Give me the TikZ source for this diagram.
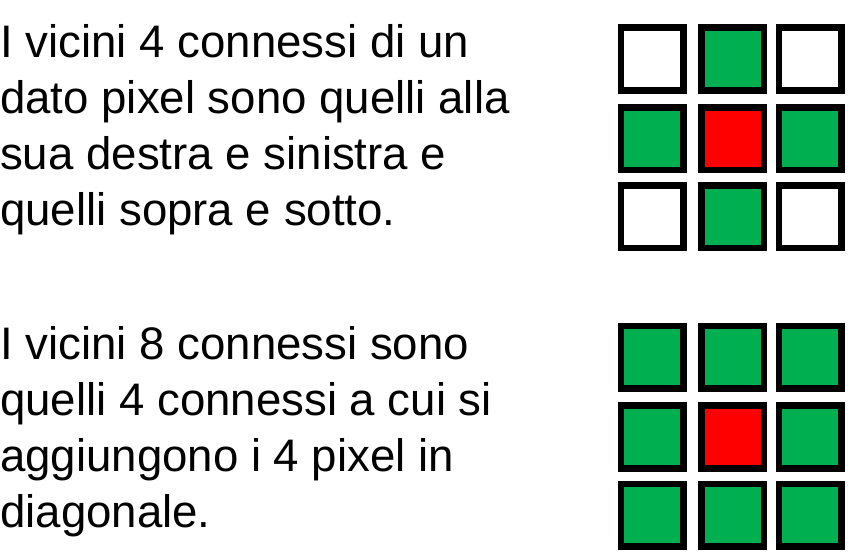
\documentclass[tikz,border=0pt]{standalone}
\usepackage{fontspec}
\setmainfont{Liberation Sans}
\definecolor{pixgreen}{RGB}{0,176,80}
\definecolor{pixred}{RGB}{255,0,0}

\begin{document}
\begin{tikzpicture}[x=1pt,y=-1pt]
  \tikzset{pixel/.style={draw=black, line width=6.7pt, minimum size=62.5pt, inner sep=0pt, outer sep=0pt, fill=#1},
           riga/.style={anchor=base west, inner sep=0pt, font=\fontsize{45.6}{56}\selectfont}}
  \useasboundingbox (0,0) rectangle (852,552);
  % testo
  \foreach \t [count=\i] in {I vicini 4 connessi di un, dato pixel sono quelli alla, sua destra e sinistra e, quelli sopra e sotto.}
    \node[riga] (quattro\i) at (0,{57+56*(\i-1)}) {\t};
  \foreach \t [count=\i] in {I vicini 8 connessi sono, quelli 4 connessi a cui si, aggiungono i 4 pixel in, diagonale.}
    \node[riga] (otto\i) at (0,{359+56*(\i-1)}) {\t};
  % griglie
  \foreach \c/\x in {1/652.3, 2/732.8, 3/810.3} {
    \foreach \r/\y/\ya in {1/59/357.2, 2/138.8/437, 3/216.7/515.2} {
      \pgfmathsetmacro{\tipo}{int(abs(\c-2)+abs(\r-2))}
      \ifcase\tipo
        \node[pixel=pixred] (a\r\c) at (\x,\y) {};
        \node[pixel=pixred] (b\r\c) at (\x,\ya) {};
      \or
        \node[pixel=pixgreen] (a\r\c) at (\x,\y) {};
        \node[pixel=pixgreen] (b\r\c) at (\x,\ya) {};
      \else
        \node[pixel=white] (a\r\c) at (\x,\y) {};
        \node[pixel=pixgreen] (b\r\c) at (\x,\ya) {};
      \fi
    }
  }
\end{tikzpicture}
\end{document}
